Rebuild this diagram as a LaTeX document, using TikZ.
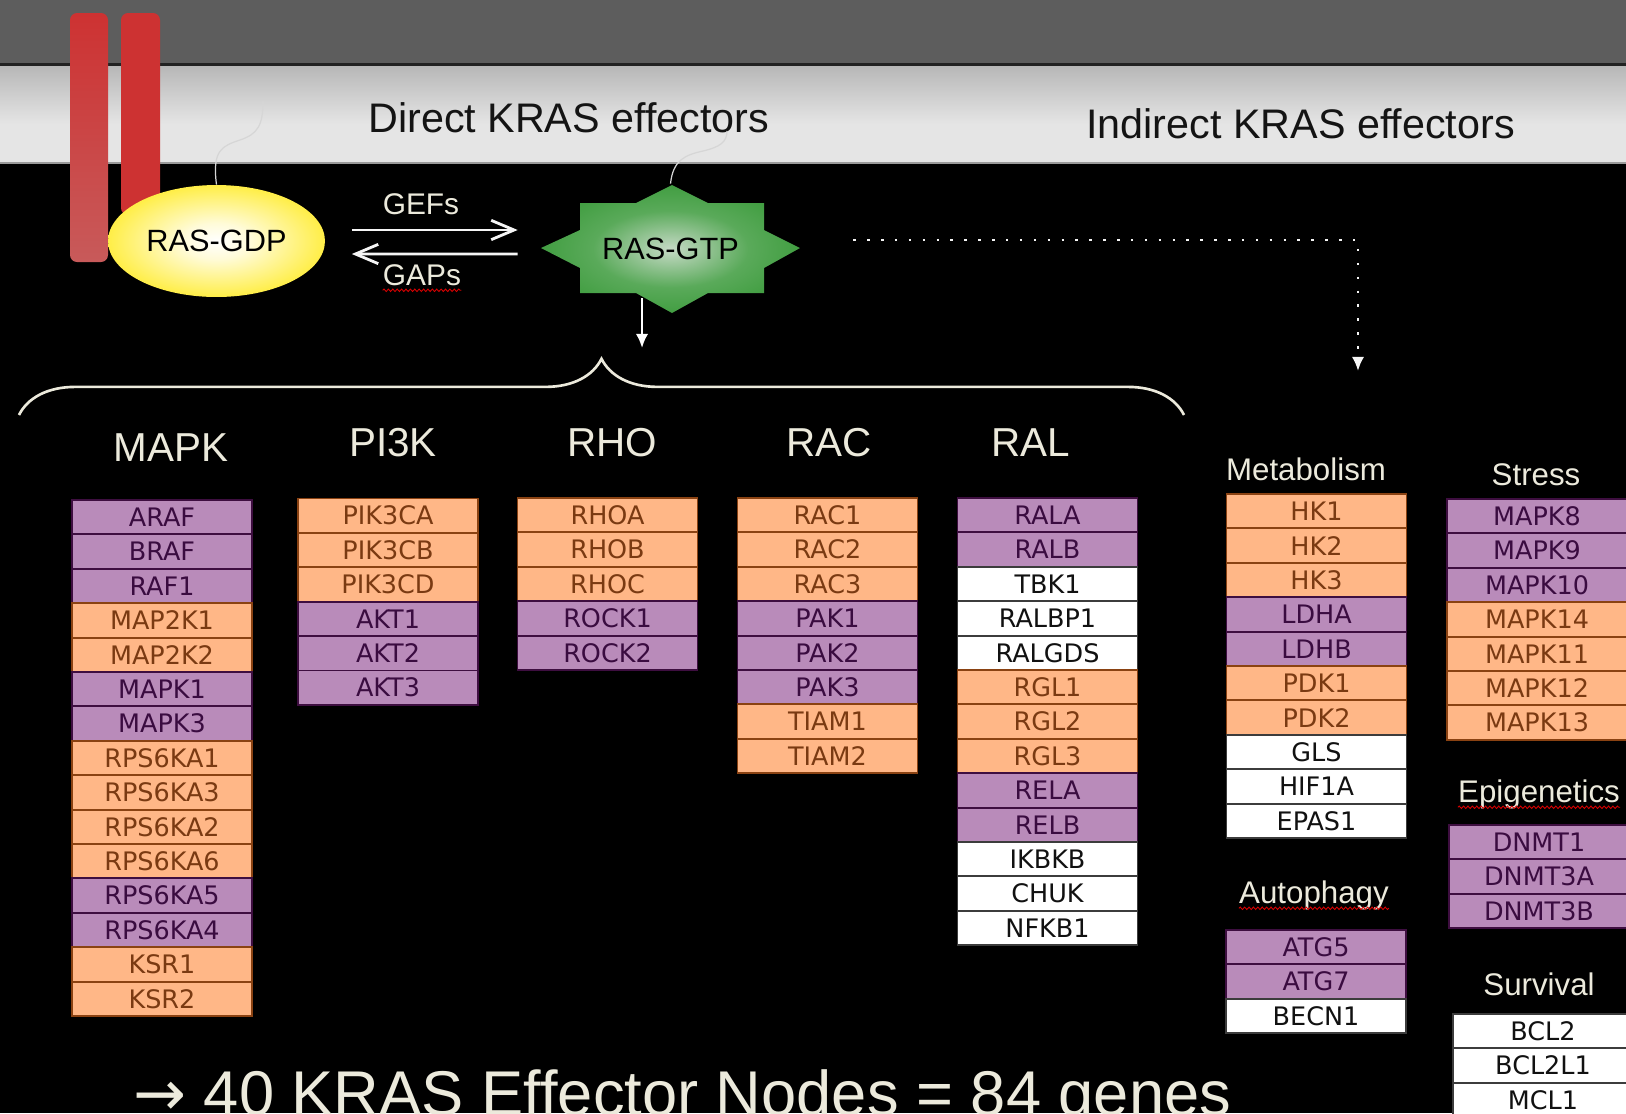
\documentclass[tikz,border=0pt]{standalone}
\usepackage{fontspec}
\setmainfont{Liberation Sans}
\newfontfamily\genefont{DejaVu Sans}
\usetikzlibrary{arrows.meta}
\usetikzlibrary{shapes.geometric}
\usetikzlibrary{decorations.pathreplacing}
\usetikzlibrary{decorations.pathmorphing}
\definecolor{bandgray}{HTML}{5D5D5D}
\definecolor{bandedge}{HTML}{222222}
\definecolor{bandtop}{HTML}{A6A6A6}
\definecolor{bandlight}{HTML}{E5E5E5}
\definecolor{bandfoot}{HTML}{9A9A9A}
\definecolor{barred}{HTML}{CD3232}
\definecolor{barpale}{HTML}{C85A5A}
\definecolor{headtxt}{HTML}{ECEADC}
\definecolor{wirecol}{HTML}{D6D6D6}
\definecolor{gdpyel}{HTML}{FFEA1C}
\definecolor{gdpsoft}{HTML}{FFFBD8}
\definecolor{gtpin}{HTML}{C6DAC6}
\definecolor{gtpmid}{HTML}{5AAA5A}
\definecolor{gtpout}{HTML}{2A922A}
\definecolor{gtptip}{HTML}{007800}
\definecolor{fillo}{HTML}{FFB787}
\definecolor{edgeo}{HTML}{8A4212}
\definecolor{inko}{HTML}{7A3A12}
\definecolor{fillp}{HTML}{B98BBA}
\definecolor{edgep}{HTML}{3E0E40}
\definecolor{inkp}{HTML}{3A0C40}
\definecolor{fillw}{HTML}{FFFFFF}
\definecolor{edgew}{HTML}{3C3C3C}
\definecolor{inkw}{HTML}{111111}
\pgfdeclareradialshading{gdpshade}{\pgfpoint{0bp}{0bp}}{color(0bp)=(white); color(8bp)=(gdpsoft); color(30bp)=(gdpyel); color(50bp)=(gdpyel)}
\pgfdeclareradialshading{gtpshade}{\pgfpoint{0bp}{0bp}}{color(0bp)=(gtpin); color(15bp)=(gtpmid); color(35bp)=(gtpout); color(50bp)=(gtptip)}
\tikzset{>=Latex}
\tikzset{genebox/.style={draw, rectangle, minimum width=3.6cm, minimum height=0.688cm, inner sep=0pt, line width=1.1pt, font=\genefont\fontsize{14.5}{16}\selectfont}}
\tikzset{grouphead/.style={anchor=base, inner sep=0pt, text=headtxt, font=\fontsize{23}{27}\selectfont}}
\tikzset{subhead/.style={anchor=base, inner sep=0pt, text=headtxt, font=\fontsize{17.8}{21}\selectfont}}
\tikzset{bandtxt/.style={anchor=base west, inner sep=0pt, text=black!92, font=\fontsize{23.5}{28}\selectfont}}
\tikzset{wire/.style={draw=wirecol, line width=0.7pt}}
\tikzset{gefarr/.style={draw=white!92!gray, line width=1.6pt, -{Straight Barb[length=13pt,width=11pt]}}}
\tikzset{downarr/.style={draw=white, line width=1.3pt, -{Latex[length=8pt,width=7pt]}}}
\tikzset{dotarr/.style={draw=white!92!gray, line width=1.5pt, dash pattern=on 1.4pt off 6.5pt, -{Latex[length=8pt,width=7pt]}}}
\tikzset{wavy/.style={draw=red!85!black, line width=0.5pt, decorate, decoration={snake, amplitude=0.7pt, segment length=2.5pt}}}
\newcommand{\genecol}[3]{%
  \foreach \g/\k [count=\i] in {#3}
    \node[genebox, fill=fill\k, draw=edge\k, text=ink\k] (\g) at (#1, #2 + \i*34.4 - 17.2) {\g};
}

\begin{document}
\begin{tikzpicture}[x=0.02cm, y=-0.02cm]
\useasboundingbox (0,0) rectangle (1626,1113);
\clip (0,0) rectangle (1626,1113);
\fill[black] (0,0) rectangle (1626,1113);

\shade[top color=bandtop, bottom color=bandlight] (0,44) rectangle (1626,124);
\fill[bandlight] (0,124) rectangle (1626,162);
\fill[bandfoot] (0,162) rectangle (1626,164);
\fill[bandgray] (0,0) rectangle (1626,63);
\fill[bandedge] (0,63) rectangle (1626,65.5);

\shade[top color=barred, bottom color=barpale, rounded corners=4pt] (70,13) rectangle (108,262);
\fill[barred, rounded corners=4pt] (121,13) rectangle (160,215);

\node[bandtxt] (direct) at (368,132) {Direct KRAS effectors};
\node[bandtxt] (indirect) at (1086,138) {Indirect KRAS effectors};

\shade[shading=gtpshade] (541,248) -- (580,230) -- (580,203) -- (636,203) -- (672,185)
  -- (708,203) -- (764,203) -- (764,230) -- (800,248) -- (764,268) -- (764,293)
  -- (708,293) -- (672,313) -- (636,293) -- (580,293) -- (580,268) -- cycle;

\node[ellipse, shade, shading=gdpshade, minimum width=4.34cm, minimum height=2.24cm, inner sep=0pt, font=\fontsize{17.5}{20}\selectfont] (gdp) at (216.5,241) {RAS-GDP};
\node[minimum width=5.18cm, minimum height=2.58cm, inner sep=0pt, font=\fontsize{17.5}{20}\selectfont] (gtp) at (670.5,248.5) {RAS-GTP};

\coordinate (gdpwire) at (263,101);
\coordinate (gtpwire) at (727,131);
\draw[wire] (gdp.north) .. controls (212,150) and (222,146) .. (240,140)
  .. controls (258,134) and (263,125) .. (gdpwire);
\draw[wire] (gtp.north) .. controls (673,160) and (685,155) .. (703,151)
  .. controls (720,147) and (727,142) .. (gtpwire);

\draw[gefarr] ([shift={(26.5,-11)}]gdp.east) -- ([shift={(-23,-18.5)}]gtp.west);
\draw[gefarr] ([shift={(-23,5.5)}]gtp.west) -- ([shift={(26.5,13)}]gdp.east);
\node[anchor=base, inner sep=0pt, text=headtxt, font=\fontsize{17}{20}\selectfont] (gefs) at (421,214) {GEFs};
\node[anchor=base, inner sep=0pt, text=headtxt, font=\fontsize{17}{20}\selectfont] (gaps) at (422,285) {GAPs};
\draw[wavy] ([yshift=-3pt]gaps.base west) -- ([yshift=-3pt]gaps.base east);

\coordinate (bracetip) at (642,348);
\draw[downarr] (gtp.south -| bracetip) ++(0,-15) -- (bracetip);
\coordinate (dotend) at (1358,371);
\draw[dotarr] ([shift={(53,-8.5)}]gtp.east) -| (dotend);

\coordinate (braceL) at (19,415);
\coordinate (braceR) at (1184,415);
\draw[draw=headtxt, line width=1.5pt, decorate, decoration={brace, amplitude=32pt}] (braceL) -- (braceR);

\node[grouphead] (hmapk) at (171,461) {MAPK};
\node[grouphead] (hpik) at (393,456) {PI3K};
\node[grouphead] (hrho) at (612,456) {RHO};
\node[grouphead] (hrac) at (829,456) {RAC};
\node[grouphead] (hral) at (1031,456) {RAL};
\node[subhead] (hmet) at (1306,480) {Metabolism};
\node[subhead] (hstress) at (1536,485) {Stress};
\node[subhead] (hepi) at (1539,802) {Epigenetics};
\node[subhead] (hauto) at (1314,903) {Autophagy};
\node[subhead] (hsurv) at (1539,995) {Survival};
\draw[wavy] ([yshift=-3pt]hepi.base west) -- ([yshift=-3pt]hepi.base east);
\draw[wavy] ([yshift=-3pt]hauto.base west) -- ([yshift=-3pt]hauto.base east);

\genecol{162}{500}{ARAF/p, BRAF/p, RAF1/p, MAP2K1/o, MAP2K2/o, MAPK1/p, MAPK3/p, RPS6KA1/o, RPS6KA3/o, RPS6KA2/o, RPS6KA6/o, RPS6KA5/p, RPS6KA4/p, KSR1/o, KSR2/o}
\genecol{388}{498.5}{PIK3CA/o, PIK3CB/o, PIK3CD/o, AKT1/p, AKT2/p, AKT3/p}
\genecol{607.5}{498}{RHOA/o, RHOB/o, RHOC/o, ROCK1/p, ROCK2/p}
\genecol{827.5}{498}{RAC1/o, RAC2/o, RAC3/o, PAK1/p, PAK2/p, PAK3/p, TIAM1/o, TIAM2/o}
\genecol{1047.5}{498}{RALA/p, RALB/p, TBK1/w, RALBP1/w, RALGDS/w, RGL1/o, RGL2/o, RGL3/o, RELA/p, RELB/p, IKBKB/w, CHUK/w, NFKB1/w}
\genecol{1316.5}{494}{HK1/o, HK2/o, HK3/o, LDHA/p, LDHB/p, PDK1/o, PDK2/o, GLS/w, HIF1A/w, EPAS1/w}
\genecol{1537}{499}{MAPK8/p, MAPK9/p, MAPK10/p, MAPK14/o, MAPK11/o, MAPK12/o, MAPK13/o}
\genecol{1539}{825}{DNMT1/p, DNMT3A/p, DNMT3B/p}
\genecol{1316}{930}{ATG5/p, ATG7/p, BECN1/w}
\genecol{1543}{1014}{BCL2/w, BCL2L1/w, MCL1/w}

\node[anchor=base west, inner sep=0pt, text=headtxt, font=\fontsize{36}{40}\selectfont] (total) at (133,1115) {{\genefont →} 40 KRAS Effector Nodes = 84 genes};
\end{tikzpicture}
\end{document}
